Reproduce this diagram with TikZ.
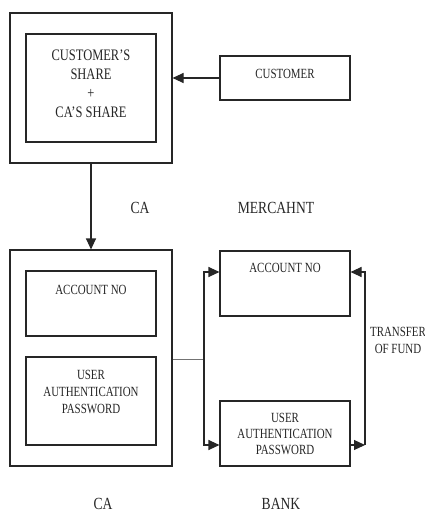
\documentclass[tikz,border=0pt]{standalone}
\usepackage{fontspec}
\setmainfont{Liberation Serif}
\newfontfamily\cond[FakeStretch=0.78]{Liberation Serif}
\newfontfamily\condb[FakeStretch=0.8]{Liberation Serif}
\usetikzlibrary{arrows.meta}
\begin{document}
\begin{tikzpicture}[x=1pt,y=-1pt,
  box/.style={draw=black!85, line width=1.1pt, fill=white, inner sep=0pt},
  txt/.style={inner sep=0pt, align=center, text=black!85, font=\cond\fontsize{14}{17}\selectfont},
  big/.style={inner sep=0pt, text=black!85, font=\condb\fontsize{17}{20}\selectfont},
  arr/.style={line width=1.1pt, draw=black!85, -{Triangle[length=11pt,width=10pt]}}]
\useasboundingbox (0,0) rectangle (425,516);
% top CA box
\node[box, minimum width=162pt, minimum height=150pt] (caTop) at (91,88) {};
\node[box, minimum width=130pt, minimum height=108pt] (shares) at (91,88) {};
\node[txt, font=\cond\fontsize{16}{19}\selectfont] (sharesT) at (91,84) {CUSTOMER’S\\SHARE\\+\\CA’S SHARE};
% customer
\node[box, minimum width=130pt, minimum height=44pt] (cust) at (285,78) {};
\node[txt] (custT) at (285,74) {CUSTOMER};
\draw[arr] (cust.west) -- (caTop.east |- cust.west);
% labels
\node[big] (caL1) at (140,208) {CA};
\node[big] (merL) at (276,208) {MERCAHNT};
% lower CA box
\node[box, minimum width=162pt, minimum height=216pt] (caBot) at (91,358) {};
\node[box, minimum width=130pt, minimum height=65pt] (accL) at (91,303.5) {};
\node[txt] (accLT) at (91,290) {ACCOUNT NO};
\node[box, minimum width=130pt, minimum height=88pt] (usrL) at (91,401) {};
\node[txt] (usrLT) at (91,392) {USER\\AUTHENTICATION\\PASSWORD};
\draw[arr] (caTop.south) -- (caBot.north);
% merchant / bank boxes
\node[box, minimum width=130pt, minimum height=65pt] (accR) at (285,283.5) {};
\node[txt] (accRT) at (285,268) {ACCOUNT NO};
\node[box, minimum width=130pt, minimum height=65pt] (usrR) at (285,433.5) {};
\node[txt, font=\cond\fontsize{14}{16}\selectfont] (usrRT) at (285,434) {USER\\AUTHENTICATION\\PASSWORD};
% branch connector
\coordinate (br) at (204,359);
\draw[line width=0.8pt, draw=black!55] (caBot.east |- br) -- (br);
\draw[arr] (br) |- (accR.west |- 0,272);
\draw[arr] (br) |- (usrR.west |- 0,445);
% transfer of fund
\coordinate (tr) at (365,445);
\draw[arr] (usrR.east |- tr) -- (tr);
\draw[arr] (tr) |- (accR.east |- 0,272);
\node[txt] (trT) at (398,340) {TRANSFER\\OF FUND};
% bottom labels
\node[big] (caL2) at (103,504) {CA};
\node[big] (bankL) at (281,504) {BANK};
\end{tikzpicture}
\end{document}
